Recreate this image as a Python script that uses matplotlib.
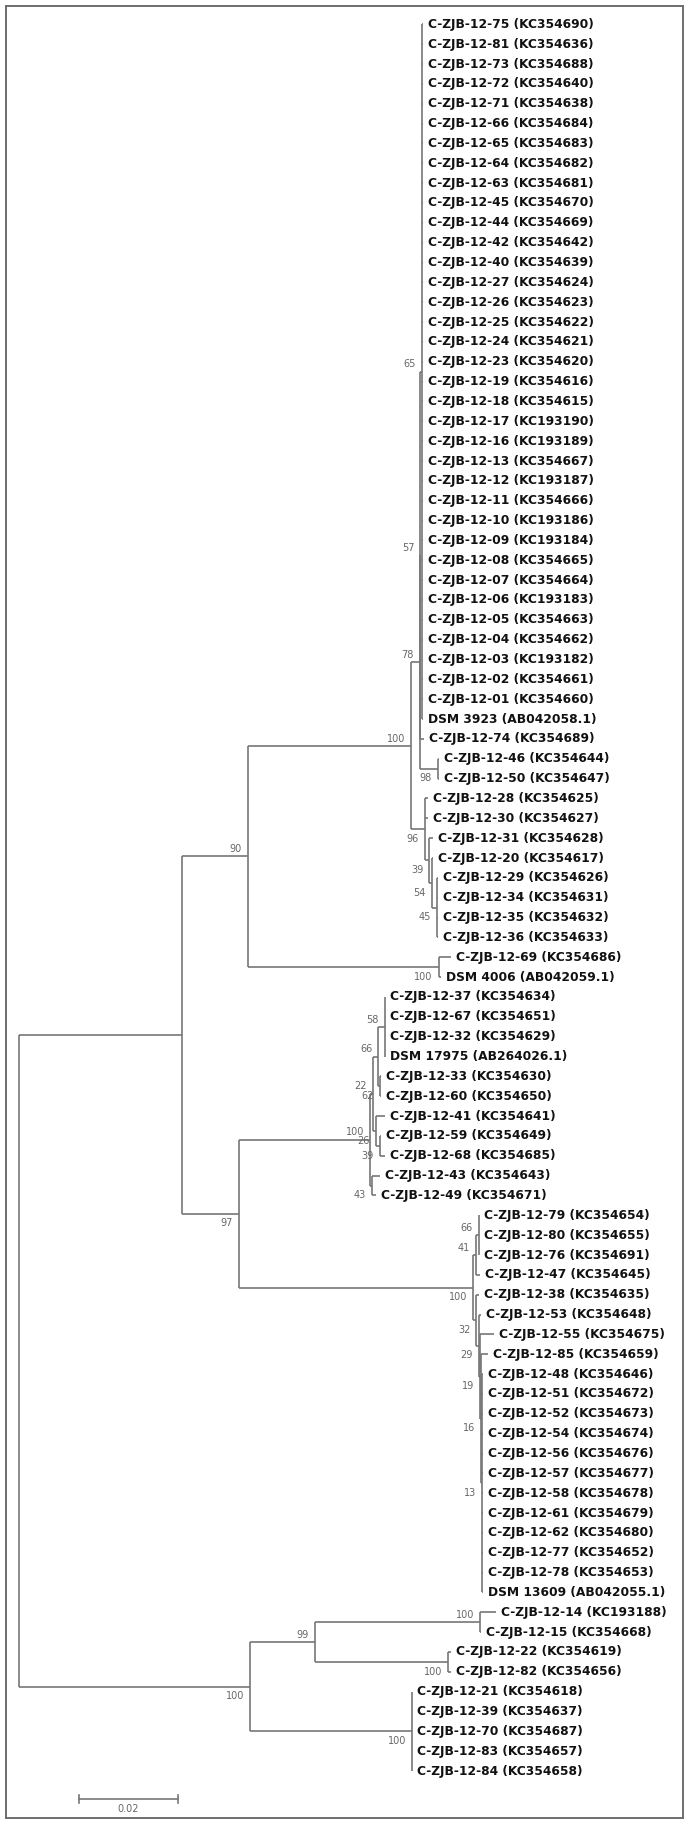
import matplotlib
matplotlib.use("Agg")
import matplotlib.pyplot as plt

# tip labels, top to bottom
tip_names = [
    "C-ZJB-12-75 (KC354690)", "C-ZJB-12-81 (KC354636)", "C-ZJB-12-73 (KC354688)",
    "C-ZJB-12-72 (KC354640)", "C-ZJB-12-71 (KC354638)", "C-ZJB-12-66 (KC354684)",
    "C-ZJB-12-65 (KC354683)", "C-ZJB-12-64 (KC354682)", "C-ZJB-12-63 (KC354681)",
    "C-ZJB-12-45 (KC354670)", "C-ZJB-12-44 (KC354669)", "C-ZJB-12-42 (KC354642)",
    "C-ZJB-12-40 (KC354639)", "C-ZJB-12-27 (KC354624)", "C-ZJB-12-26 (KC354623)",
    "C-ZJB-12-25 (KC354622)", "C-ZJB-12-24 (KC354621)", "C-ZJB-12-23 (KC354620)",
    "C-ZJB-12-19 (KC354616)", "C-ZJB-12-18 (KC354615)", "C-ZJB-12-17 (KC193190)",
    "C-ZJB-12-16 (KC193189)", "C-ZJB-12-13 (KC354667)", "C-ZJB-12-12 (KC193187)",
    "C-ZJB-12-11 (KC354666)", "C-ZJB-12-10 (KC193186)", "C-ZJB-12-09 (KC193184)",
    "C-ZJB-12-08 (KC354665)", "C-ZJB-12-07 (KC354664)", "C-ZJB-12-06 (KC193183)",
    "C-ZJB-12-05 (KC354663)", "C-ZJB-12-04 (KC354662)", "C-ZJB-12-03 (KC193182)",
    "C-ZJB-12-02 (KC354661)", "C-ZJB-12-01 (KC354660)", "DSM 3923 (AB042058.1)",
    "C-ZJB-12-74 (KC354689)", "C-ZJB-12-46 (KC354644)", "C-ZJB-12-50 (KC354647)",
    "C-ZJB-12-28 (KC354625)", "C-ZJB-12-30 (KC354627)", "C-ZJB-12-31 (KC354628)",
    "C-ZJB-12-20 (KC354617)", "C-ZJB-12-29 (KC354626)", "C-ZJB-12-34 (KC354631)",
    "C-ZJB-12-35 (KC354632)", "C-ZJB-12-36 (KC354633)", "C-ZJB-12-69 (KC354686)",
    "DSM 4006 (AB042059.1)", "C-ZJB-12-37 (KC354634)", "C-ZJB-12-67 (KC354651)",
    "C-ZJB-12-32 (KC354629)", "DSM 17975 (AB264026.1)", "C-ZJB-12-33 (KC354630)",
    "C-ZJB-12-60 (KC354650)", "C-ZJB-12-41 (KC354641)", "C-ZJB-12-59 (KC354649)",
    "C-ZJB-12-68 (KC354685)", "C-ZJB-12-43 (KC354643)", "C-ZJB-12-49 (KC354671)",
    "C-ZJB-12-79 (KC354654)", "C-ZJB-12-80 (KC354655)", "C-ZJB-12-76 (KC354691)",
    "C-ZJB-12-47 (KC354645)", "C-ZJB-12-38 (KC354635)", "C-ZJB-12-53 (KC354648)",
    "C-ZJB-12-55 (KC354675)", "C-ZJB-12-85 (KC354659)", "C-ZJB-12-48 (KC354646)",
    "C-ZJB-12-51 (KC354672)", "C-ZJB-12-52 (KC354673)", "C-ZJB-12-54 (KC354674)",
    "C-ZJB-12-56 (KC354676)", "C-ZJB-12-57 (KC354677)", "C-ZJB-12-58 (KC354678)",
    "C-ZJB-12-61 (KC354679)", "C-ZJB-12-62 (KC354680)", "C-ZJB-12-77 (KC354652)",
    "C-ZJB-12-78 (KC354653)", "DSM 13609 (AB042055.1)", "C-ZJB-12-14 (KC193188)",
    "C-ZJB-12-15 (KC354668)", "C-ZJB-12-22 (KC354619)", "C-ZJB-12-82 (KC354656)",
    "C-ZJB-12-21 (KC354618)", "C-ZJB-12-39 (KC354637)", "C-ZJB-12-70 (KC354687)",
    "C-ZJB-12-83 (KC354657)", "C-ZJB-12-84 (KC354658)",
]

# distance of each tip from the root (substitutions/site)
tip_depth = (
    [0.08152] * 36
    + [0.08182, 0.08485, 0.08485]
    + [0.08253, 0.08253, 0.08354, 0.08354, 0.08455, 0.08455, 0.08455, 0.08455]
    + [0.08737, 0.08525]
    + [0.07404] * 4 + [0.07313, 0.07313, 0.07394, 0.07313, 0.07394, 0.07293, 0.07212]
    + [0.09303] * 3 + [0.09313, 0.09283, 0.09333, 0.09606, 0.09475]
    + [0.09364] * 12
    + [0.09636, 0.09333, 0.08727, 0.08727]
    + [0.07949] * 5
)

# internal nodes: children are tip indices or node names
node_names = ["root", "n97", "n90", "top", "n78", "n57", "n65", "n98", "n96", "n39a",
              "n54", "n45", "d4006", "nM", "midA", "n22", "n66a", "n58", "n62", "n26",
              "n39b", "n43", "midB", "n41", "n66b", "n32", "n29", "n19", "n16", "n13",
              "bot", "n99", "n1415", "n2282", "n21"]
node_children = [
    ["n97", "bot"], ["n90", "nM"], ["top", "d4006"], ["n78", "n96"], ["n57", "n98"],
    ["n65", 36], list(range(0, 36)), [37, 38], [39, 40, "n39a"], [41, "n54"],
    [42, "n45"], [43, 44, 45, 46], [47, 48], ["midA", "midB"], ["n22", "n43"],
    ["n66a", "n26"], ["n58", "n62"], [49, 50, 51, 52], [53, 54], [55, "n39b"],
    [56, 57], [58, 59], ["n41", "n32"], ["n66b", 63], [60, 61, 62],
    [64, "n29"], [65, "n19"], [66, "n16"], [67, "n13"], list(range(68, 80)),
    ["n99", "n21"], ["n1415", "n2282"], [80, 81], [82, 83], [84, 85, 86, 87, 88],
]
node_depth = [0.0, 0.03293, 0.04626, 0.07929, 0.08091, 0.08111, 0.08135, 0.08459,
              0.08202, 0.08289, 0.08337, 0.08438, 0.08475, 0.04444, 0.07091, 0.07152,
              0.07259, 0.07394, 0.07293, 0.07212, 0.07293, 0.07125, 0.09178, 0.09226,
              0.09293, 0.09242, 0.09283, 0.09313, 0.09333, 0.09354, 0.04667, 0.05970,
              0.09313, 0.08667, 0.07939]
node_support = [None, None, 90, 100, 78, 57, 65, 98, 96, 39, 54, 45, 100, 97, 100, 22,
                66, 58, 62, 26, 39, 43, 100, 41, 66, 32, 29, 19, 16, 13, 100, 99, 100,
                100, 100]

scale_len = 0.02

line_col = "#777777"
text_col = "#111111"
sup_col = "#666666"

W, H = 689, 1825
px_per_unit = 4950.0
x0_px = 19.0
y0_px, dy_px = 24.3, 19.85
frame = (5.7, 5.7, 683.0, 1818.0)

fig = plt.figure(figsize=(W / 100, H / 100), dpi=100)
ax = fig.add_axes([frame[0] / W, 1 - frame[3] / H,
                   (frame[2] - frame[0]) / W, (frame[3] - frame[1]) / H])
ax.set_xlim((frame[0] - x0_px) / px_per_unit, (frame[2] - x0_px) / px_per_unit)
ax.set_ylim((frame[3] - y0_px) / dy_px, (frame[1] - y0_px) / dy_px)
ax.set_xticks([])
ax.set_yticks([])
for sp in ax.spines.values():
    sp.set_color("#6e6e6e")
    sp.set_linewidth(1.4)

nodes = {n: (c, d, s) for n, c, d, s in zip(node_names, node_children, node_depth, node_support)}
ypos = {}


def node_y(key):
    if isinstance(key, int):
        return float(key)
    if key not in ypos:
        kids = nodes[key][0]
        ypos[key] = (node_y(kids[0]) + node_y(kids[-1])) / 2
    return ypos[key]


def depth(key):
    return tip_depth[key] if isinstance(key, int) else nodes[key][1]


lw = 1.2
for name in node_names:
    kids, d, sup = nodes[name]
    ys = [node_y(k) for k in kids]
    ax.plot([d, d], [min(ys), max(ys)], color=line_col, lw=lw, solid_capstyle="butt")
    for k, yk in zip(kids, ys):
        if depth(k) > d:
            ax.plot([d, depth(k)], [yk, yk], color=line_col, lw=lw, solid_capstyle="butt")
        if not isinstance(k, int):
            ksup = nodes[k][2]
            if ksup is None:
                continue
            above = k == kids[0]
            ax.annotate(str(ksup), (nodes[k][1], yk), xytext=(-4.3, 5.2 if above else -7.0),
                        textcoords="offset points", ha="right", va="center",
                        fontsize=7, color=sup_col)

for i, (nm, d) in enumerate(zip(tip_names, tip_depth)):
    ax.annotate(nm, (d, i), xytext=(3.6, 0), textcoords="offset points",
                ha="left", va="center", fontsize=8.8, fontweight="bold", color=text_col)

# scale bar
sb_x = (78.7 - x0_px) / px_per_unit
sb_y = (1799 - y0_px) / dy_px
ax.plot([sb_x, sb_x + scale_len], [sb_y, sb_y], color=line_col, lw=1.2)
for xx in (sb_x, sb_x + scale_len):
    ax.plot([xx, xx], [sb_y - 0.2, sb_y + 0.2], color=line_col, lw=1.2)
ax.annotate("0.02", (sb_x + scale_len / 2, sb_y), xytext=(0, -7.5), textcoords="offset points",
            ha="center", va="center", fontsize=7, color=sup_col)

fig.savefig("out.png", dpi=100)
